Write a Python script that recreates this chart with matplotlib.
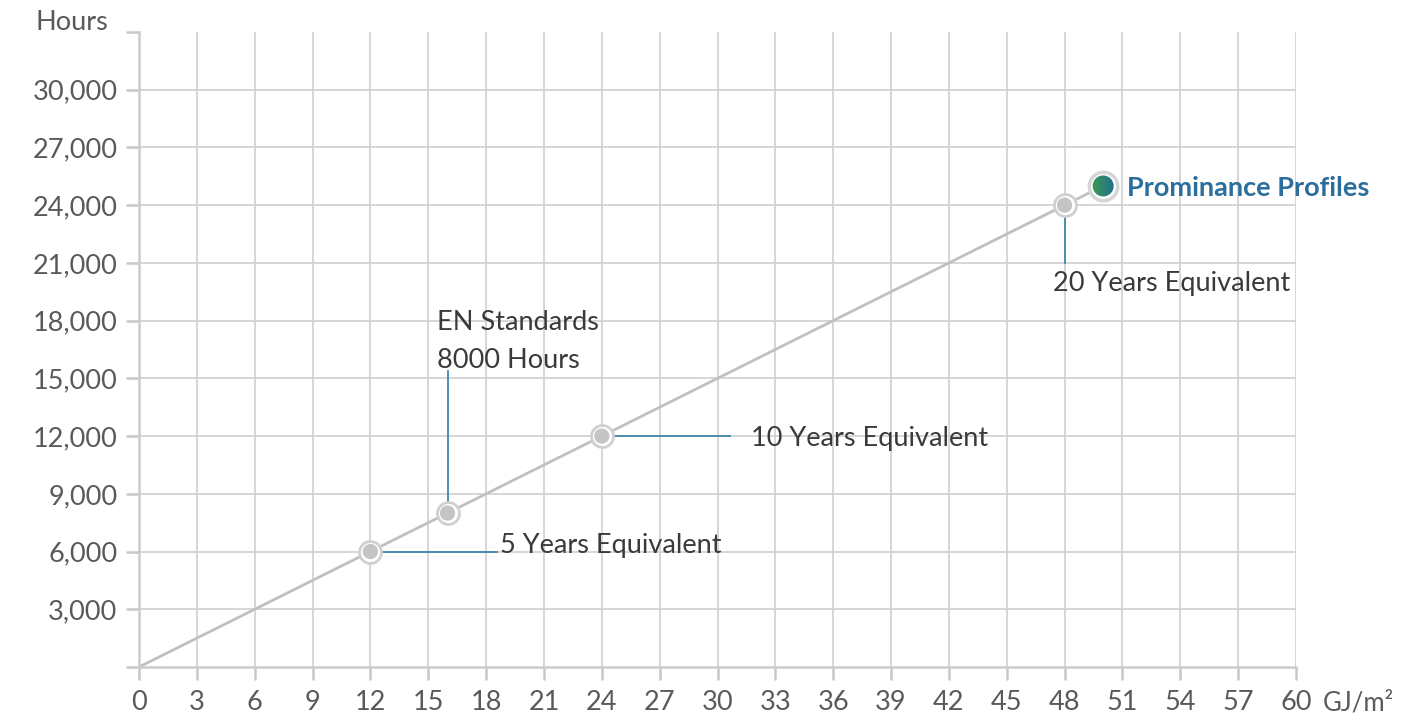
import numpy as np
import matplotlib
matplotlib.use("Agg")
import matplotlib.pyplot as plt
from matplotlib.patches import Circle
from matplotlib.transforms import ScaledTranslation
from matplotlib.colors import LinearSegmentedColormap

plt.rcParams['font.family'] = ['Lato', 'DejaVu Sans']

# ---- data ----
line_x = [0, 12, 16, 24, 48, 50]
line_y = [0, 6000, 8000, 12000, 24000, 25000]
milestone_x = [12, 16, 24, 48]
milestone_y = [6000, 8000, 12000, 24000]
highlight_x = 50
highlight_y = 25000
highlight_label = "Prominance Profiles"
x_ticks = list(range(0, 61, 3))
y_ticks = list(range(0, 33001, 3000))
y_tick_labels = ["" if v in (0, 33000) else f"{v:,}" for v in y_ticks]

fig = plt.figure(figsize=(14.24, 7.21), dpi=100)
ax = fig.add_axes([139/1424, 54/721, (1296-139)/1424, (667-32)/721])
ax.set_xlim(0, 60)
ax.set_ylim(0, 33000)

grid_c = '#d3d3d3'
for v in x_ticks[1:]:
    ax.axvline(v, color=grid_c, lw=1.3, zorder=0)
for v in y_ticks[1:-1]:
    ax.axhline(v, color=grid_c, lw=1.3, zorder=0)

for s in ['top', 'right']:
    ax.spines[s].set_visible(False)
for s in ['left', 'bottom']:
    ax.spines[s].set_color('#cccccc')
    ax.spines[s].set_linewidth(1.8)

fs = 19.5
ax.set_xticks(x_ticks)
ax.set_xticklabels([str(v) for v in x_ticks])
ax.set_yticks(y_ticks)
ax.set_yticklabels(y_tick_labels)
ax.tick_params(axis='both', length=9.5, width=1.8, color='#c8c8c8',
               labelcolor='#5a5a5a', labelsize=fs)
ax.tick_params(axis='y', pad=6)
ax.tick_params(axis='x', pad=7)

# main line
ax.plot(line_x, line_y, color='#c0c0c0', lw=2.0, zorder=2)

# annotation leader lines
lead_c = '#3f87ab'
ax.plot([12, 18.55], [6000, 6000], color=lead_c, lw=1.3, zorder=3)
ax.plot([24, 30.65], [12000, 12000], color=lead_c, lw=1.3, zorder=3)
ax.plot([16, 16], [8000, 15400], color=lead_c, lw=1.3, zorder=3)
ax.plot([48, 48], [24000, 21000], color=lead_c, lw=1.3, zorder=3)

# milestone markers
ax.scatter(milestone_x, milestone_y, s=250, facecolor='white', edgecolor='#d0d0d0',
           linewidth=2.0, zorder=4)
ax.scatter(milestone_x, milestone_y, s=120, facecolor='#c4c4c4', edgecolor='none', zorder=5)

# highlight marker with ring
ax.scatter([highlight_x], [highlight_y], s=420, facecolor='white', edgecolor='#d6d6d6',
           linewidth=2.5, zorder=4)
r_in = 10.5 / 100.0
trans = fig.dpi_scale_trans + ScaledTranslation(highlight_x, highlight_y, ax.transData)
circ = Circle((0, 0), radius=r_in, transform=trans, facecolor='none', edgecolor='none')
ax.add_patch(circ)
cmap = LinearSegmentedColormap.from_list('g', ['#3a9c4a', '#1f6b9a'])
grad = np.linspace(0, 1, 64).reshape(1, -1)
dx = 12 / 19.28
dy = 12 / 19.25 * 1000
im = ax.imshow(grad, cmap=cmap, aspect='auto',
               extent=[highlight_x - dx, highlight_x + dx, highlight_y - dy, highlight_y + dy],
               zorder=6, interpolation='bilinear')
im.set_clip_path(circ)
ax.set_xlim(0, 60)
ax.set_ylim(0, 33000)

txt_c = '#3a3a3a'
ax.text(18.7, 6330, "5 Years Equivalent", color=txt_c, fontsize=fs, va='center', ha='left')
ax.text(31.75, 11900, "10 Years Equivalent", color=txt_c, fontsize=fs, va='center', ha='left')
ax.text(15.45, 17900, "EN Standards", color=txt_c, fontsize=fs, va='center', ha='left')
ax.text(15.45, 15950, "8000 Hours", color=txt_c, fontsize=fs, va='center', ha='left')
ax.text(47.4, 19950, "20 Years Equivalent", color=txt_c, fontsize=fs, va='center', ha='left')
ax.text(51.25, 24900, highlight_label, color='#2b6e9c', fontsize=fs, fontweight='bold',
        va='center', ha='left')

# axis titles
fig.text(108/1424, 1 - 22/721, "Hours", color='#5a5a5a', fontsize=fs, ha='right', va='center')
fig.text(1323/1424, 1 - 703/721, "GJ/m²", color='#5a5a5a', fontsize=18.5, ha='left', va='center')

fig.savefig("out.png", dpi=100, facecolor='white')
